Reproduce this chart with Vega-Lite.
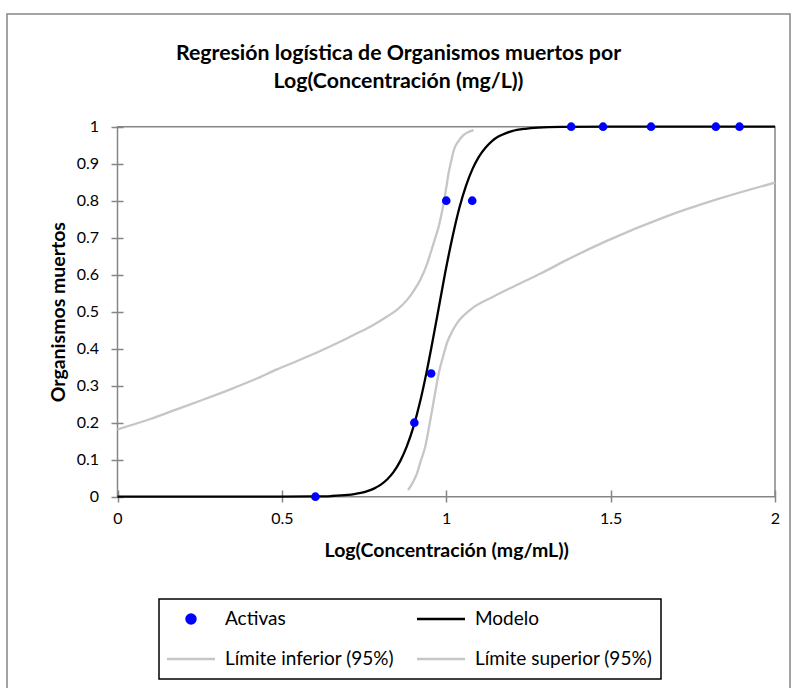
{
  "$schema": "https://vega.github.io/schema/vega-lite/v6.json",
  "width": 783,
  "height": 676,
  "autosize": {"type": "none"},
  "padding": {"left": 7, "top": 14, "right": 6, "bottom": 0},
  "background": "white",
  "config": {
    "font": "Lato",
    "view": {"stroke": "#868686", "strokeWidth": 1.5}
  },
  "title": {
    "text": ["Regresión logística de Organismos muertos por", "Log(Concentración (mg/L))"],
    "fontSize": 21.3,
    "fontWeight": "bold",
    "color": "black",
    "anchor": "middle",
    "frame": "group",
    "lineHeight": 28,
    "offset": -78
  },
  "datasets": {
    "marco": [
      {"x_ini": 0, "x_fin": 2, "y_ini": 0, "y_fin": 1}
    ],
    "activas": [
      {"logc": 0.602, "p": 0, "serie": "Activas"},
      {"logc": 0.903, "p": 0.2, "serie": "Activas"},
      {"logc": 0.954, "p": 0.333, "serie": "Activas"},
      {"logc": 1.0, "p": 0.8, "serie": "Activas"},
      {"logc": 1.079, "p": 0.8, "serie": "Activas"},
      {"logc": 1.38, "p": 1, "serie": "Activas"},
      {"logc": 1.477, "p": 1, "serie": "Activas"},
      {"logc": 1.623, "p": 1, "serie": "Activas"},
      {"logc": 1.82, "p": 1, "serie": "Activas"},
      {"logc": 1.892, "p": 1, "serie": "Activas"}
    ],
    "curvas": [
      {"logc": 0.884, "p": 0.018, "serie": "Límite inferior (95%)"},
      {"logc": 0.898, "p": 0.038, "serie": "Límite inferior (95%)"},
      {"logc": 0.911, "p": 0.063, "serie": "Límite inferior (95%)"},
      {"logc": 0.923, "p": 0.098, "serie": "Límite inferior (95%)"},
      {"logc": 0.936, "p": 0.135, "serie": "Límite inferior (95%)"},
      {"logc": 0.947, "p": 0.185, "serie": "Límite inferior (95%)"},
      {"logc": 0.957, "p": 0.234, "serie": "Límite inferior (95%)"},
      {"logc": 0.967, "p": 0.285, "serie": "Límite inferior (95%)"},
      {"logc": 0.977, "p": 0.333, "serie": "Límite inferior (95%)"},
      {"logc": 0.99, "p": 0.378, "serie": "Límite inferior (95%)"},
      {"logc": 1.002, "p": 0.415, "serie": "Límite inferior (95%)"},
      {"logc": 1.017, "p": 0.445, "serie": "Límite inferior (95%)"},
      {"logc": 1.033, "p": 0.469, "serie": "Límite inferior (95%)"},
      {"logc": 1.073, "p": 0.505, "serie": "Límite inferior (95%)"},
      {"logc": 1.144, "p": 0.541, "serie": "Límite inferior (95%)"},
      {"logc": 1.226, "p": 0.577, "serie": "Límite inferior (95%)"},
      {"logc": 1.287, "p": 0.603, "serie": "Límite inferior (95%)"},
      {"logc": 1.358, "p": 0.636, "serie": "Límite inferior (95%)"},
      {"logc": 1.49, "p": 0.692, "serie": "Límite inferior (95%)"},
      {"logc": 1.662, "p": 0.755, "serie": "Límite inferior (95%)"},
      {"logc": 1.825, "p": 0.804, "serie": "Límite inferior (95%)"},
      {"logc": 2.0, "p": 0.849, "serie": "Límite inferior (95%)"},
      {"logc": 0.0, "p": 0.182, "serie": "Límite superior (95%)"},
      {"logc": 0.1, "p": 0.21, "serie": "Límite superior (95%)"},
      {"logc": 0.18, "p": 0.236, "serie": "Límite superior (95%)"},
      {"logc": 0.26, "p": 0.262, "serie": "Límite superior (95%)"},
      {"logc": 0.343, "p": 0.29, "serie": "Límite superior (95%)"},
      {"logc": 0.42, "p": 0.318, "serie": "Límite superior (95%)"},
      {"logc": 0.485, "p": 0.344, "serie": "Límite superior (95%)"},
      {"logc": 0.55, "p": 0.368, "serie": "Límite superior (95%)"},
      {"logc": 0.62, "p": 0.395, "serie": "Límite superior (95%)"},
      {"logc": 0.68, "p": 0.42, "serie": "Límite superior (95%)"},
      {"logc": 0.718, "p": 0.437, "serie": "Límite superior (95%)"},
      {"logc": 0.77, "p": 0.46, "serie": "Límite superior (95%)"},
      {"logc": 0.82, "p": 0.487, "serie": "Límite superior (95%)"},
      {"logc": 0.85, "p": 0.505, "serie": "Límite superior (95%)"},
      {"logc": 0.881, "p": 0.532, "serie": "Límite superior (95%)"},
      {"logc": 0.9, "p": 0.555, "serie": "Límite superior (95%)"},
      {"logc": 0.921, "p": 0.586, "serie": "Límite superior (95%)"},
      {"logc": 0.94, "p": 0.625, "serie": "Límite superior (95%)"},
      {"logc": 0.952, "p": 0.658, "serie": "Límite superior (95%)"},
      {"logc": 0.965, "p": 0.695, "serie": "Límite superior (95%)"},
      {"logc": 0.977, "p": 0.73, "serie": "Límite superior (95%)"},
      {"logc": 0.992, "p": 0.793, "serie": "Límite superior (95%)"},
      {"logc": 1.0, "p": 0.835, "serie": "Límite superior (95%)"},
      {"logc": 1.007, "p": 0.874, "serie": "Límite superior (95%)"},
      {"logc": 1.015, "p": 0.907, "serie": "Límite superior (95%)"},
      {"logc": 1.023, "p": 0.937, "serie": "Límite superior (95%)"},
      {"logc": 1.038, "p": 0.962, "serie": "Límite superior (95%)"},
      {"logc": 1.053, "p": 0.978, "serie": "Límite superior (95%)"},
      {"logc": 1.068, "p": 0.986, "serie": "Límite superior (95%)"},
      {"logc": 1.083, "p": 0.991, "serie": "Límite superior (95%)"},
      {"logc": 0.0, "p": 0, "serie": "Modelo"},
      {"logc": 0.3, "p": 0, "serie": "Modelo"},
      {"logc": 0.5, "p": 0.0001, "serie": "Modelo"},
      {"logc": 0.6, "p": 0.0007, "serie": "Modelo"},
      {"logc": 0.65, "p": 0.0018, "serie": "Modelo"},
      {"logc": 0.7, "p": 0.0047, "serie": "Modelo"},
      {"logc": 0.72, "p": 0.0069, "serie": "Modelo"},
      {"logc": 0.74, "p": 0.0101, "serie": "Modelo"},
      {"logc": 0.76, "p": 0.0149, "serie": "Modelo"},
      {"logc": 0.78, "p": 0.0219, "serie": "Modelo"},
      {"logc": 0.8, "p": 0.0319, "serie": "Modelo"},
      {"logc": 0.82, "p": 0.0465, "serie": "Modelo"},
      {"logc": 0.84, "p": 0.0671, "serie": "Modelo"},
      {"logc": 0.86, "p": 0.0962, "serie": "Modelo"},
      {"logc": 0.88, "p": 0.136, "serie": "Modelo"},
      {"logc": 0.9, "p": 0.188, "serie": "Modelo"},
      {"logc": 0.92, "p": 0.255, "serie": "Modelo"},
      {"logc": 0.94, "p": 0.336, "serie": "Modelo"},
      {"logc": 0.96, "p": 0.428, "serie": "Modelo"},
      {"logc": 0.98, "p": 0.524, "serie": "Modelo"},
      {"logc": 1.0, "p": 0.62, "serie": "Modelo"},
      {"logc": 1.02, "p": 0.706, "serie": "Modelo"},
      {"logc": 1.04, "p": 0.781, "serie": "Modelo"},
      {"logc": 1.06, "p": 0.84, "serie": "Modelo"},
      {"logc": 1.08, "p": 0.886, "serie": "Modelo"},
      {"logc": 1.1, "p": 0.92, "serie": "Modelo"},
      {"logc": 1.12, "p": 0.944, "serie": "Modelo"},
      {"logc": 1.14, "p": 0.962, "serie": "Modelo"},
      {"logc": 1.16, "p": 0.974, "serie": "Modelo"},
      {"logc": 1.18, "p": 0.982, "serie": "Modelo"},
      {"logc": 1.2, "p": 0.988, "serie": "Modelo"},
      {"logc": 1.24, "p": 0.9943, "serie": "Modelo"},
      {"logc": 1.28, "p": 0.9974, "serie": "Modelo"},
      {"logc": 1.35, "p": 0.9993, "serie": "Modelo"},
      {"logc": 1.5, "p": 1, "serie": "Modelo"},
      {"logc": 1.75, "p": 1, "serie": "Modelo"},
      {"logc": 2.0, "p": 1, "serie": "Modelo"}
    ]
  },
  "layer": [
    {
      "data": {"name": "marco"},
      "mark": {"type": "rect", "filled": false, "stroke": "#868686", "strokeWidth": 1.5},
      "encoding": {
        "x": {"field": "x_ini", "type": "quantitative"},
        "x2": {"field": "x_fin"},
        "y": {"field": "y_ini", "type": "quantitative"},
        "y2": {"field": "y_fin"}
      }
    },
    {
      "data": {"name": "curvas"},
      "mark": {"type": "line", "strokeWidth": 2.3, "interpolate": "monotone"},
      "encoding": {
        "x": {
          "field": "logc",
          "type": "quantitative",
          "scale": {"domain": [0, 2], "range": [110.5, 768], "nice": false, "zero": false},
          "axis": {
            "title": "Log(Concentración (mg/mL))",
            "orient": "bottom",
            "offset": -200,
            "domain": false,
            "grid": false,
            "values": [0, 0.5, 1, 1.5, 2],
            "format": "~g",
            "tickSize": 12,
            "tickColor": "#868686",
            "tickWidth": 1.5,
            "labelFontSize": 16,
            "labelColor": "black",
            "labelPadding": 8,
            "labelFlush": false,
            "titleFontSize": 19.5,
            "titleFontWeight": "bold",
            "titleColor": "black",
            "titleBaseline": "middle",
            "titleY": 60
          }
        },
        "y": {
          "field": "p",
          "type": "quantitative",
          "scale": {"domain": [0, 1], "range": [482.7, 112.7], "nice": false, "zero": false},
          "axis": {
            "title": "Organismos muertos",
            "orient": "left",
            "offset": -116,
            "domain": false,
            "grid": false,
            "values": [0, 0.1, 0.2, 0.3, 0.4, 0.5, 0.6, 0.7, 0.8, 0.9, 1],
            "format": "~g",
            "tickSize": 12,
            "tickColor": "#868686",
            "tickWidth": 1.5,
            "labelFontSize": 16,
            "labelColor": "black",
            "labelPadding": 12.5,
            "labelFlush": false,
            "titleFontSize": 19.5,
            "titleFontWeight": "bold",
            "titleColor": "black",
            "titleBaseline": "middle",
            "titleAlign": "center",
            "titleX": -65,
            "titleY": 297.7
          }
        },
        "color": {
          "field": "serie",
          "type": "nominal",
          "scale": {
            "domain": ["Activas", "Modelo", "Límite inferior (95%)", "Límite superior (95%)"],
            "range": ["#0000ff", "#000000", "#c6c6c6", "#c6c6c6"]
          },
          "legend": {
            "title": null,
            "orient": "none",
            "legendX": 152,
            "legendY": 585,
            "direction": "horizontal",
            "columns": 2,
            "columnPadding": 23,
            "rowPadding": 16,
            "padding": 8,
            "clipHeight": 24,
            "strokeColor": "black",
            "fillColor": "white",
            "symbolType": "stroke",
            "symbolSize": 552,
            "symbolStrokeWidth": 2.5,
            "symbolOffset": -1.5,
            "labelFontSize": 19,
            "labelLimit": 300,
            "labelColor": "black",
            "labelOffset": 8.5,
            "encode": {
              "legend": {
                "update": {"strokeWidth": {"value": 1.5}}
              },
              "symbols": {
                "update": {
                  "shape": {"signal": "datum.value === 'Activas' ? 'circle' : 'stroke'"},
                  "size": {"signal": "datum.value === 'Activas' ? 80 : 2304"},
                  "fill": {"signal": "datum.value === 'Activas' ? '#0000ff' : 'transparent'"},
                  "stroke": {"signal": "datum.value === 'Activas' ? 'transparent' : (datum.value === 'Modelo' ? '#000000' : '#c6c6c6')"},
                  "strokeWidth": {"value": 2.5},
                  "opacity": {"value": 1}
                }
              }
            }
          }
        }
      }
    },
    {
      "data": {"name": "activas"},
      "mark": {"type": "point", "filled": true, "size": 75, "shape": "circle", "opacity": 1},
      "encoding": {
        "x": {"field": "logc", "type": "quantitative"},
        "y": {"field": "p", "type": "quantitative"},
        "color": {"field": "serie", "type": "nominal"}
      }
    }
  ]
}
